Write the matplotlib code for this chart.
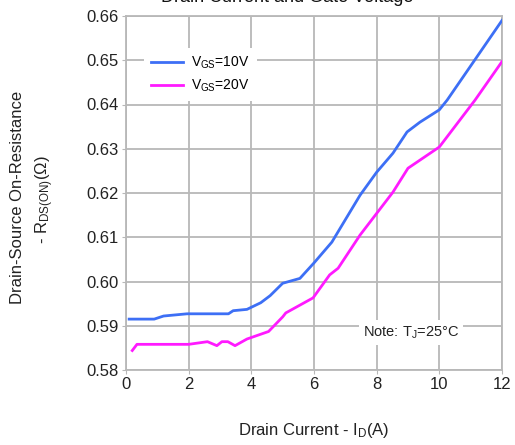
import matplotlib
matplotlib.use("Agg")
import matplotlib.pyplot as plt

plt.rcParams['font.family'] = ['Liberation Sans', 'DejaVu Sans']
plt.rcParams['mathtext.fontset'] = 'custom'
plt.rcParams['mathtext.rm'] = 'Liberation Sans'
plt.rcParams['mathtext.it'] = 'Liberation Sans'

# Data
id_10v = [0.1, 0.9, 1.2, 1.95, 3.27, 3.42, 3.86, 4.3, 4.6, 5.0, 5.55, 6.0, 6.57, 7.47, 8.0, 8.52, 8.97, 9.38, 10.0, 10.25, 12.0]
r_10v = [0.5915, 0.5915, 0.5922, 0.5927, 0.5927, 0.5934, 0.5937, 0.5952, 0.5968, 0.5996, 0.6007, 0.6042, 0.6089, 0.6195, 0.6247, 0.6290, 0.6338, 0.6360, 0.6388, 0.6410, 0.6590]
id_20v = [0.2, 0.35, 2.0, 2.6, 2.9, 3.06, 3.25, 3.48, 3.86, 4.55, 5.0, 5.1, 5.97, 6.5, 6.77, 7.47, 8.52, 9.0, 10.0, 11.14, 12.0]
r_20v = [0.5844, 0.5858, 0.5858, 0.5864, 0.5855, 0.5864, 0.5864, 0.5855, 0.5870, 0.5887, 0.5920, 0.5929, 0.5963, 0.6015, 0.6030, 0.6105, 0.6202, 0.6256, 0.6304, 0.6410, 0.6497]
xticks = [0, 2, 4, 6, 8, 10, 12]
yticks = [0.58, 0.59, 0.60, 0.61, 0.62, 0.63, 0.64, 0.65, 0.66]
ytick_labels = ['0.58', '0.59', '0.60', '0.61', '0.62', '0.63', '0.64', '0.65', '0.66']

fig = plt.figure(figsize=(5.15, 4.45), dpi=100)
ax = fig.add_axes([126/515, 1-370/445, (502-126)/515, (370-16)/445])

grid_c = '#b8b8b8'
ax.plot(id_10v, r_10v, color='#3d6ff5', lw=2.0, label=r'V$_{\mathregular{GS}}$=10V', zorder=3)
ax.plot(id_20v, r_20v, color='#ff1aff', lw=2.0, label=r'V$_{\mathregular{GS}}$=20V', zorder=3)

ax.set_xlim(0, 12)
ax.set_ylim(0.58, 0.66)
ax.set_xticks(xticks)
ax.set_xticklabels([str(v) for v in xticks])
ax.set_yticks(yticks)
ax.set_yticklabels(ytick_labels)
ax.grid(True, color=grid_c, lw=1.3)
for s in ax.spines.values():
    s.set_color(grid_c)
    s.set_linewidth(1.3)
ax.tick_params(length=3, color=grid_c, labelsize=12, labelcolor='#222222', pad=2)

leg = ax.legend(loc='upper left', bbox_to_anchor=(0.03, 0.93), frameon=True, fontsize=10,
                handlelength=2.3, handletextpad=0.6, borderpad=0.5, labelspacing=0.5)
leg.get_frame().set_edgecolor('none')
leg.get_frame().set_facecolor('white')
leg.get_frame().set_alpha(1)

ax.text(9.1, 0.5885, r'Note: T$_{\mathregular{J}}$=25°C', fontsize=10.5, ha='center', va='center',
        color='#222222', bbox=dict(facecolor='white', edgecolor='none', pad=3), zorder=4)

fig.text(314/515, 1-431/445, r'Drain Current - I$_{\mathregular{D}}$(A)', ha='center', va='center', fontsize=12, color='#222222')
fig.text(18/515, 1-197/445, 'Drain-Source On-Resistance', rotation=90, ha='center', va='center', fontsize=12, color='#222222')
fig.text(45/515, 1-200/445, r'- R$_{\mathregular{DS(ON)}}$($\Omega$)', rotation=90, ha='center', va='center', fontsize=12, color='#222222')
fig.text(287/515, 1-(-2)/445, 'Drain Current and Gate Voltage', ha='center', va='center', fontsize=13, color='#111111')

fig.savefig('out.png', dpi=100)
